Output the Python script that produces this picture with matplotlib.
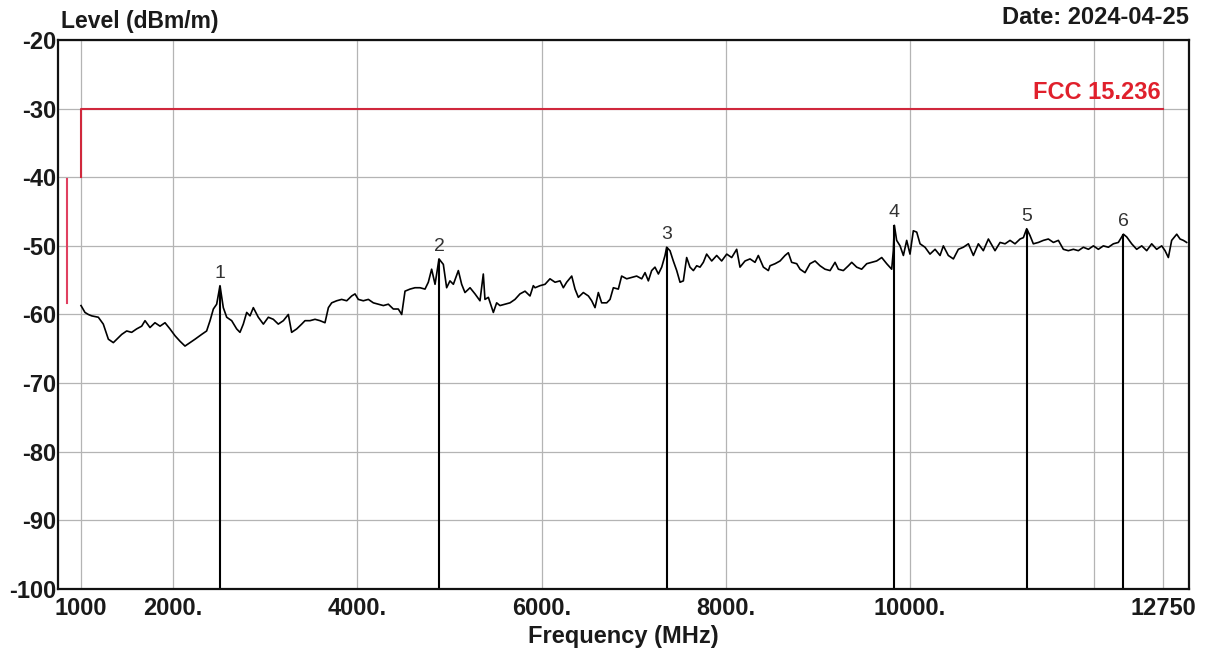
import numpy as np
import matplotlib
matplotlib.use('Agg')
import matplotlib.pyplot as plt

plt.rcParams['font.family'] = ['Liberation Sans', 'DejaVu Sans']

# Trace (MHz, dBm/m)
trace_freq = [1000, 1043, 1080, 1116, 1188, 1242, 1297, 1351, 1405, 1442,
              1496, 1550, 1604, 1659, 1695, 1749, 1803, 1858, 1912, 1966,
              2021, 2075, 2129, 2183, 2238, 2310, 2364, 2401, 2437, 2473,
              2509, 2545, 2582, 2636, 2690, 2726, 2762, 2799, 2835, 2871,
              2925, 2980, 3034, 3088, 3142, 3197, 3251, 3287, 3342, 3396,
              3432, 3486, 3541, 3595, 3649, 3686, 3722, 3776, 3830, 3885,
              3939, 3975, 4011, 4065, 4120, 4174, 4228, 4283, 4337, 4391,
              4445, 4482, 4518, 4572, 4626, 4681, 4735, 4771, 4807, 4844,
              4887, 4934, 4970, 5006, 5043, 5097, 5133, 5169, 5224, 5278,
              5332, 5368, 5386, 5423, 5477, 5513, 5549, 5604, 5658, 5712,
              5766, 5821, 5875, 5911, 5930, 5984, 6038, 6092, 6147, 6201,
              6237, 6273, 6328, 6364, 6400, 6454, 6509, 6545, 6581, 6617,
              6653, 6708, 6744, 6780, 6834, 6870, 6925, 6979, 7033, 7088,
              7124, 7160, 7196, 7232, 7269, 7305, 7341, 7359, 7395, 7431,
              7468, 7504, 7540, 7576, 7612, 7649, 7685, 7721, 7757, 7793,
              7848, 7902, 7956, 8011, 8065, 8119, 8155, 8210, 8264, 8318,
              8354, 8409, 8463, 8481, 8536, 8590, 8644, 8680, 8716, 8771,
              8807, 8861, 8915, 8970, 9024, 9078, 9133, 9187, 9223, 9277,
              9332, 9368, 9422, 9476, 9531, 9585, 9639, 9694, 9748, 9802,
              9820, 9831, 9856, 9893, 9929, 9965, 10001, 10037, 10074, 10110,
              10164, 10218, 10273, 10327, 10363, 10417, 10472, 10526, 10580, 10635,
              10689, 10743, 10797, 10852, 10924, 10979, 11033, 11087, 11141, 11196,
              11232, 11268, 11304, 11340, 11395, 11449, 11503, 11558, 11612, 11666,
              11720, 11775, 11829, 11883, 11938, 11992, 12046, 12100, 12155, 12209,
              12263, 12318, 12354, 12408, 12462, 12517, 12571, 12625, 12679, 12734,
              12770, 12806, 12842, 12897, 12933, 12969, 13005]
trace_level = [-58.7, -59.7, -60.0, -60.2, -60.4, -61.4, -63.6, -64.1, -63.4, -62.9,
               -62.4, -62.6, -62.1, -61.7, -60.9, -61.9, -61.2, -61.7, -61.2, -62.1,
               -63.1, -63.9, -64.6, -64.1, -63.6, -62.9, -62.4, -60.9, -59.2, -58.5,
               -55.8, -59.0, -60.4, -60.9, -62.1, -62.6, -61.4, -59.7, -60.2, -59.0,
               -60.4, -61.4, -60.4, -60.7, -61.4, -60.9, -60.0, -62.6, -62.1, -61.4,
               -60.9, -60.9, -60.7, -60.9, -61.2, -59.0, -58.3, -58.0, -57.8, -58.0,
               -57.3, -57.0, -57.8, -58.0, -57.8, -58.3, -58.5, -58.7, -58.5, -59.2,
               -59.2, -60.0, -56.6, -56.3, -56.1, -56.1, -56.3, -55.3, -53.4, -55.6,
               -51.9, -52.7, -56.1, -55.1, -55.6, -53.6, -55.6, -56.8, -56.1, -57.0,
               -58.0, -54.1, -57.8, -57.5, -59.7, -58.3, -58.7, -58.5, -58.3, -57.8,
               -57.0, -56.6, -57.3, -55.8, -56.1, -55.8, -55.6, -54.8, -55.3, -55.1,
               -56.1, -55.3, -54.4, -56.3, -57.5, -56.8, -57.3, -58.0, -59.0, -56.8,
               -58.3, -58.3, -57.8, -56.1, -56.3, -54.4, -54.8, -54.6, -54.4, -54.8,
               -53.9, -55.1, -53.6, -53.1, -54.1, -53.1, -51.4, -50.2, -50.7, -52.2,
               -53.6, -55.3, -55.1, -51.7, -53.1, -53.6, -52.9, -53.1, -52.4, -51.2,
               -52.2, -51.4, -52.2, -51.2, -51.7, -50.5, -53.1, -52.2, -51.9, -52.4,
               -51.4, -53.1, -53.6, -52.9, -52.6, -52.2, -51.4, -51.0, -52.4, -52.6,
               -53.4, -53.9, -52.6, -52.2, -52.9, -53.4, -53.6, -52.4, -53.4, -53.6,
               -52.9, -52.4, -53.1, -53.4, -52.6, -52.4, -52.2, -51.7, -52.6, -53.4,
               -50.7, -47.0, -49.2, -50.0, -51.4, -49.2, -51.2, -47.8, -48.0, -49.7,
               -50.2, -51.2, -50.5, -51.4, -50.0, -51.4, -51.9, -50.5, -50.2, -49.7,
               -51.4, -49.7, -50.7, -49.0, -50.7, -49.5, -49.7, -49.2, -49.7, -49.0,
               -48.8, -47.5, -48.5, -49.7, -49.5, -49.2, -49.0, -49.5, -49.2, -50.5,
               -50.7, -50.5, -50.7, -50.2, -50.5, -50.0, -50.5, -50.0, -50.2, -49.7,
               -49.5, -48.3, -48.7, -49.7, -50.5, -50.0, -50.7, -49.7, -50.5, -50.0,
               -50.7, -51.7, -49.2, -48.3, -49.0, -49.2, -49.5]

# Markers
marker_labels = ['1', '2', '3', '4', '5', '6']
marker_freq = [2509, 4887, 7359, 9831, 11268, 12318]
marker_level = [-55.8, -51.9, -50.2, -47.0, -47.5, -48.3]

# Limit line FCC 15.236
limit_freq = [1000, 1000, 12750]
limit_level = [-40, -30, -30]
low_limit_freq = [845, 845]
low_limit_level = [-40.2, -58.3]

x_ticks = [1000, 2000, 4000, 6000, 8000, 10000, 12000, 12750]
x_tick_labels = ['1000', '2000.', '4000.', '6000.', '8000.', '10000.', '', '12750']
y_ticks = [-100, -90, -80, -70, -60, -50, -40, -30, -20]

fig = plt.figure(figsize=(12.13, 6.51), dpi=100)
ax = fig.add_axes([0.0478, 0.0952, 0.9324, 0.8434])

ax.set_xlim(750, 13030)
ax.set_ylim(-100, -20)

ax.set_xticks(x_ticks)
ax.set_xticklabels(x_tick_labels)
ax.set_yticks(y_ticks)
ax.set_yticklabels([str(v) for v in y_ticks])
ax.tick_params(axis='both', length=0, labelsize=17, labelcolor='#1a1a1a')
ax.tick_params(axis='x', pad=6)
ax.tick_params(axis='y', pad=1)
for lab in ax.get_xticklabels() + ax.get_yticklabels():
    lab.set_fontweight('bold')

ax.grid(True, color='#b4b4b4', linewidth=0.9)
ax.set_axisbelow(True)
for sp in ax.spines.values():
    sp.set_linewidth(1.6)
    sp.set_color('#111111')

# limite
ax.plot(limit_freq, limit_level, color='#d0283c', linewidth=1.5)
ax.plot(low_limit_freq, low_limit_level, color='#e04060', linewidth=1.5)
ax.text(12720, -29.4, 'FCC 15.236', color='#e0202c', fontsize=17, fontweight='bold',
        ha='right', va='bottom')

# traço medido
ax.plot(trace_freq, trace_level, color='black', linewidth=1.2)

# marcadores
ax.vlines(marker_freq, -100, marker_level, color='black', linewidth=1.5)
for lab, f, l in zip(marker_labels, marker_freq, marker_level):
    ax.annotate(lab, (f, l), xytext=(0, 3), textcoords='offset points',
                ha='center', va='bottom', fontsize=14, color='#333333')

ax.text(0.003, 1.012, 'Level (dBm/m)', transform=ax.transAxes, fontsize=16.5,
        fontweight='bold', color='#1a1a1a', ha='left', va='bottom')
ax.text(1.0, 1.02, 'Date: 2024-04-25', transform=ax.transAxes, fontsize=17,
        fontweight='bold', color='#1a1a1a', ha='right', va='bottom')
ax.set_xlabel('Frequency (MHz)', fontsize=17, fontweight='bold', color='#1a1a1a', labelpad=3)

plt.savefig('out.png', dpi=100)
